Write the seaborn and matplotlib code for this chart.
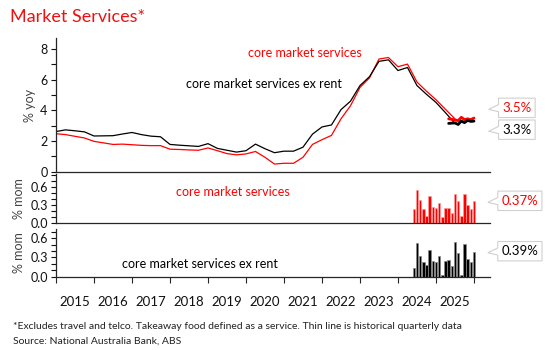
import numpy as np
import pandas as pd
import matplotlib
matplotlib.use('Agg')
import matplotlib.pyplot as plt
import seaborn as sns
from matplotlib.path import Path
from matplotlib.ticker import MultipleLocator, FixedLocator, NullFormatter

# quarterly yoy (Dec-2014 quarter .. Jun-2025 quarter)
quarters = pd.period_range('2014Q4', '2025Q2', freq='Q')
core_ms_q = [2.48, 2.42, 2.31, 2.20, 1.98, 1.88, 1.78, 1.80, 1.76, 1.72,
             1.70, 1.70, 1.47, 1.45, 1.42, 1.40, 1.55, 1.37, 1.18, 1.10,
             1.16, 1.32, 0.94, 0.50, 0.55, 0.55, 0.94, 1.78, 2.09, 2.37,
             3.45, 4.30, 5.50, 6.12, 7.35, 7.45, 6.85, 7.02, 5.85, 5.25,
             4.70, 4.07, 3.45]
core_ms_xr_q = [2.62, 2.73, 2.67, 2.60, 2.33, 2.34, 2.35, 2.46, 2.56, 2.42,
                2.32, 2.28, 1.78, 1.73, 1.69, 1.65, 1.83, 1.52, 1.40, 1.28,
                1.37, 1.80, 1.50, 1.24, 1.34, 1.34, 1.60, 2.45, 2.92, 3.05,
                4.05, 4.60, 5.62, 6.20, 7.20, 7.30, 6.60, 6.80, 5.62, 5.05,
                4.52, 3.85, 3.15]

# monthly yoy
yoy_months = pd.period_range('2025-04', '2025-12', freq='M')
core_ms_yoy_m = [3.45, 3.42, 3.38, 3.33, 3.55, 3.40, 3.45, 3.40, 3.50]
core_ms_xr_yoy_m = [3.15, 3.17, 3.18, 3.08, 3.30, 3.20, 3.35, 3.28, 3.30]

# monthly mom
mom_months = pd.period_range('2024-05', '2025-12', freq='M')
core_ms_mom = [0.23, 0.55, 0.39, 0.23, 0.12, 0.45, 0.27, 0.24, 0.33, 0.09,
               0.24, 0.25, 0.16, 0.49, 0.36, 0.11, 0.48, 0.29, 0.23, 0.37]
core_ms_xr_mom = [0.14, 0.52, 0.33, 0.23, 0.18, 0.42, 0.25, 0.23, 0.32, 0.02,
                  0.24, 0.26, 0.17, 0.54, 0.37, 0.03, 0.51, 0.28, 0.23, 0.39]

years = list(range(2015, 2026))

RED = '#ff0000'
BLACK = '#000000'


def month_pos(periods):
    m = periods.asfreq('M', 'end')
    return np.array(m.year + m.month / 12.0)


def callout(x0, y0, width, height, mutation_size):
    pad = mutation_size * 0.28
    x0, y0 = x0 - pad, y0 - pad
    x1, y1 = x0 + width + 2 * pad, y0 + height + 2 * pad
    h = y1 - y0
    tip = mutation_size * 0.75
    ym = y0 + h * 0.42
    verts = [(x0, y0), (x1, y0), (x1, y1), (x0, y1), (x0, ym + h * 0.25),
             (x0 - tip, ym), (x0, ym - h * 0.12), (x0, y0), (x0, y0)]
    codes = [Path.MOVETO] + [Path.LINETO] * 7 + [Path.CLOSEPOLY]
    return Path(verts, codes)


sns.set_style('ticks')
plt.rcParams['font.family'] = ['Lato', 'DejaVu Sans']
plt.rcParams['axes.linewidth'] = 0.9

qx = month_pos(quarters)
yx = month_pos(yoy_months)
mx = month_pos(mom_months)

fig = plt.figure(figsize=(5.5, 3.5), dpi=100)
ax1 = fig.add_axes([0.1018, 0.5094, 0.789, 0.381])
ax2 = fig.add_axes([0.1018, 0.3637, 0.789, 0.139], sharex=ax1)
ax3 = fig.add_axes([0.1018, 0.2094, 0.789, 0.1354], sharex=ax1)

sns.lineplot(x=qx, y=core_ms_q, ax=ax1, color=RED, lw=0.9)
sns.lineplot(x=qx, y=core_ms_xr_q, ax=ax1, color=BLACK, lw=0.9)
sns.lineplot(x=yx, y=core_ms_yoy_m, ax=ax1, color=RED, lw=2.0)
sns.lineplot(x=yx, y=core_ms_xr_yoy_m, ax=ax1, color=BLACK, lw=2.0)

sns.barplot(x=mx, y=core_ms_mom, ax=ax2, native_scale=True, width=0.75,
            color=RED, saturation=1, edgecolor='#ff9a9a', linewidth=0.5,
            errorbar=None)
sns.barplot(x=mx, y=core_ms_xr_mom, ax=ax3, native_scale=True, width=0.75,
            color=BLACK, saturation=1, edgecolor='#8a8a8a', linewidth=0.5,
            errorbar=None)

ax1.set_ylim(0, 8.7)
ax1.yaxis.set_major_locator(MultipleLocator(2))
ax1.yaxis.set_minor_locator(MultipleLocator(1))
ax2.set_ylim(0, 0.82)
ax3.set_ylim(0, 0.74)
for ax in (ax2, ax3):
    ax.yaxis.set_major_locator(FixedLocator([0.0, 0.3, 0.6]))
    ax.yaxis.set_minor_locator(MultipleLocator(0.1))
    ax.yaxis.set_major_formatter(matplotlib.ticker.FormatStrFormatter('%.1f'))

ax1.set_xlim(2015.0, 2026.42)

for ax in (ax1, ax2, ax3):
    sns.despine(ax=ax)
    ax.tick_params(axis='y', which='both', direction='out', length=3.5,
                   width=0.8, labelsize=9, pad=2.5, colors='#111111')
    ax.set_xlabel('')

for ax in (ax1, ax2):
    ax.tick_params(axis='x', which='both', bottom=False, labelbottom=False)

ax3.xaxis.set_major_locator(FixedLocator(years + [2026]))
ax3.xaxis.set_major_formatter(NullFormatter())
ax3.xaxis.set_minor_locator(FixedLocator([y + 0.5 for y in years]))
ax3.xaxis.set_minor_formatter(matplotlib.ticker.FixedFormatter([str(y) for y in years]))
ax3.tick_params(axis='x', which='major', direction='out', length=4, width=0.8)
ax3.tick_params(axis='x', which='minor', length=0, labelsize=9.5, pad=14,
                colors='#111111')

ax1.set_ylabel('% yoy', fontsize=9, color='#444444')
ax2.set_ylabel('% mom', fontsize=9, color='#444444')
ax3.set_ylabel('% mom', fontsize=9, color='#444444')
ax1.yaxis.set_label_coords(-0.047, 0.5)
ax2.yaxis.set_label_coords(-0.071, 0.5)
ax3.yaxis.set_label_coords(-0.071, 0.5)

ax1.text(0.574, 0.89, 'core market services', transform=ax1.transAxes,
         color=RED, fontsize=9, ha='center', va='center')
ax1.text(0.479, 0.657, 'core market services ex rent', transform=ax1.transAxes,
         color=BLACK, fontsize=9, ha='center', va='center')
ax2.text(0.408, 0.63, 'core market services', transform=ax2.transAxes,
         color=RED, fontsize=9, ha='center', va='center')
ax3.text(0.332, 0.27, 'core market services ex rent', transform=ax3.transAxes,
         color=BLACK, fontsize=9, ha='center', va='center')

box = dict(boxstyle=callout, fc='white', ec='#d0d0d0', lw=0.8)
ax1.text(1.062, 0.479, f'{core_ms_yoy_m[-1]:.1f}%', transform=ax1.transAxes,
         color=RED, fontsize=9.5, ha='center', va='center', bbox=box, clip_on=False)
ax1.text(1.062, 0.315, f'{core_ms_xr_yoy_m[-1]:.1f}%', transform=ax1.transAxes,
         color=BLACK, fontsize=9.5, ha='center', va='center', bbox=box, clip_on=False)
ax2.text(1.069, 0.45, f'{core_ms_mom[-1]:.2f}%', transform=ax2.transAxes,
         color=RED, fontsize=9.5, ha='center', va='center', bbox=box, clip_on=False)
ax3.text(1.069, 0.538, f'{core_ms_xr_mom[-1]:.2f}%', transform=ax3.transAxes,
         color=BLACK, fontsize=9.5, ha='center', va='center', bbox=box, clip_on=False)

fig.text(0.019, 0.95, 'Market Services*', color='#ee1111', fontsize=13,
         ha='left', va='center')
fig.text(0.024, 0.068, '*Excludes travel and telco. Takeaway food defined as a service. '
         'Thin line is historical quarterly data', fontsize=7.5, color='#222222',
         ha='left', va='center')
fig.text(0.024, 0.025, 'Source: National Australia Bank, ABS', fontsize=7.5,
         color='#222222', ha='left', va='center')

fig.savefig('out.png', dpi=100)
